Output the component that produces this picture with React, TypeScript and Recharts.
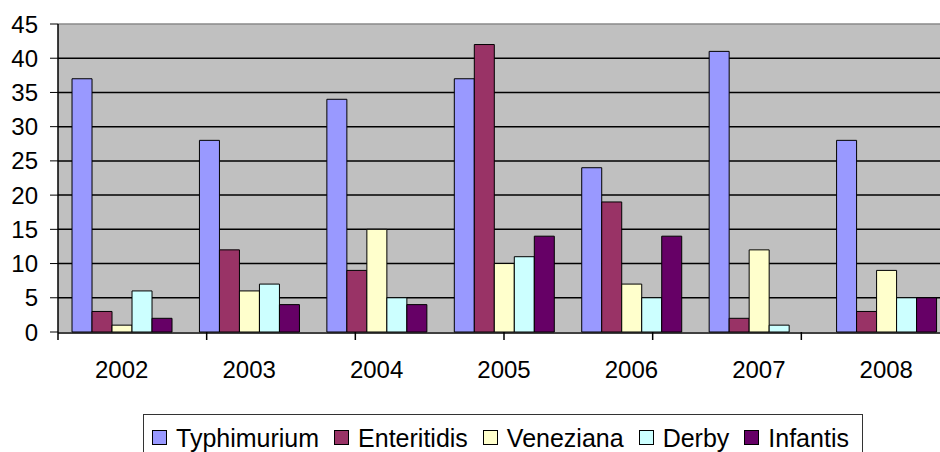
import React from 'react';
import { BarChart, Bar, XAxis, YAxis, CartesianGrid, Legend, ReferenceLine } from 'recharts';

const years = ['2002', '2003', '2004', '2005', '2006', '2007', '2008'];
const typhimurium = [37, 28, 34, 37, 24, 41, 28];
const enteritidis = [3, 12, 9, 42, 19, 2, 3];
const veneziana = [1, 6, 15, 10, 7, 12, 9];
const derby = [6, 7, 5, 11, 5, 1, 5];
const infantis = [2, 4, 4, 14, 14, 0, 5];
const yTicks = [0, 5, 10, 15, 20, 25, 30, 35, 40, 45];

const seriesList = [
  { key: 'Typhimurium', values: typhimurium, color: '#9999FF' },
  { key: 'Enteritidis', values: enteritidis, color: '#993366' },
  { key: 'Veneziana', values: veneziana, color: '#FFFFCC' },
  { key: 'Derby', values: derby, color: '#CCFFFF' },
  { key: 'Infantis', values: infantis, color: '#660066' },
];

const data = years.map((year, i) => {
  const row: Record<string, string | number> = { year };
  seriesList.forEach((s) => {
    row[s.key] = s.values[i];
  });
  return row;
});

// category boundaries for the Excel-style ticks between groups
const boundaryTicks = years.map((_, i) => i).concat(years.length);

const FONT = '"Liberation Sans", Arial, sans-serif';

const NoLabel = () => <g />;

const LegendBox = () => (
  <div
    style={{
      boxSizing: 'border-box',
      height: 40,
      border: '1px solid #333',
      background: '#fff',
      padding: '7px 0 0 8px',
      display: 'flex',
      alignItems: 'center',
      fontFamily: FONT,
      fontSize: 25,
      color: '#000',
      lineHeight: '28px',
    }}
  >
    {seriesList.map((s) => (
      <span key={s.key} style={{ display: 'inline-flex', alignItems: 'center', marginRight: 15, height: 28 }}>
        <span
          style={{
            display: 'inline-block',
            boxSizing: 'border-box',
            width: 15,
            height: 15,
            background: s.color,
            border: '1px solid #000',
            marginRight: 9,
          }}
        />
        {s.key}
      </span>
    ))}
  </div>
);

export default function App() {
  return (
    <div style={{ position: 'absolute', left: 0, top: 0, width: 940, height: 452, overflow: 'hidden', background: '#fff' }}>
      <BarChart
        width={960}
        height={452}
        data={data}
        margin={{ top: 24, right: 10, left: 0, bottom: 0 }}
        barCategoryGap="11%"
        barGap={0}
      >
        <CartesianGrid
          vertical={false}
          fill="#C0C0C0"
          stroke="#000"
          strokeWidth={1.5}
          horizontalValues={yTicks.filter((v) => v > 0 && v < 45)}
        />
        <XAxis
          xAxisId="bounds"
          type="number"
          domain={[0, years.length]}
          ticks={boundaryTicks}
          interval={0}
          tick={NoLabel}
          axisLine={false}
          tickLine={{ stroke: '#000', strokeWidth: 1.5 }}
          tickSize={8}
          height={1}
          allowDataOverflow
        />
        <XAxis
          xAxisId="cat"
          dataKey="year"
          axisLine={{ stroke: '#000', strokeWidth: 1.5 }}
          tickLine={false}
          tickSize={0}
          tickMargin={28}
          height={79}
          tick={{ fill: '#000', fontSize: 24, fontFamily: FONT }}
        />
        <YAxis
          width={58}
          domain={[0, 45]}
          ticks={yTicks}
          interval={0}
          axisLine={{ stroke: '#000', strokeWidth: 1.5 }}
          tickLine={{ stroke: '#000' }}
          tickSize={8}
          tickMargin={12}
          tick={{ fill: '#000', fontSize: 24, fontFamily: FONT }}
        />
        <ReferenceLine y={45} xAxisId="cat" stroke="#8a8a8a" strokeWidth={1.5} />
        {seriesList.map((s) => (
          <Bar
            key={s.key}
            xAxisId="cat"
            dataKey={s.key}
            fill={s.color}
            stroke="#000"
            strokeWidth={1}
            isAnimationActive={false}
          />
        ))}
        <Legend
          verticalAlign="bottom"
          content={() => <LegendBox />}
          wrapperStyle={{ top: 414, left: 143, width: 720, height: 40 }}
        />
      </BarChart>
    </div>
  );
}
